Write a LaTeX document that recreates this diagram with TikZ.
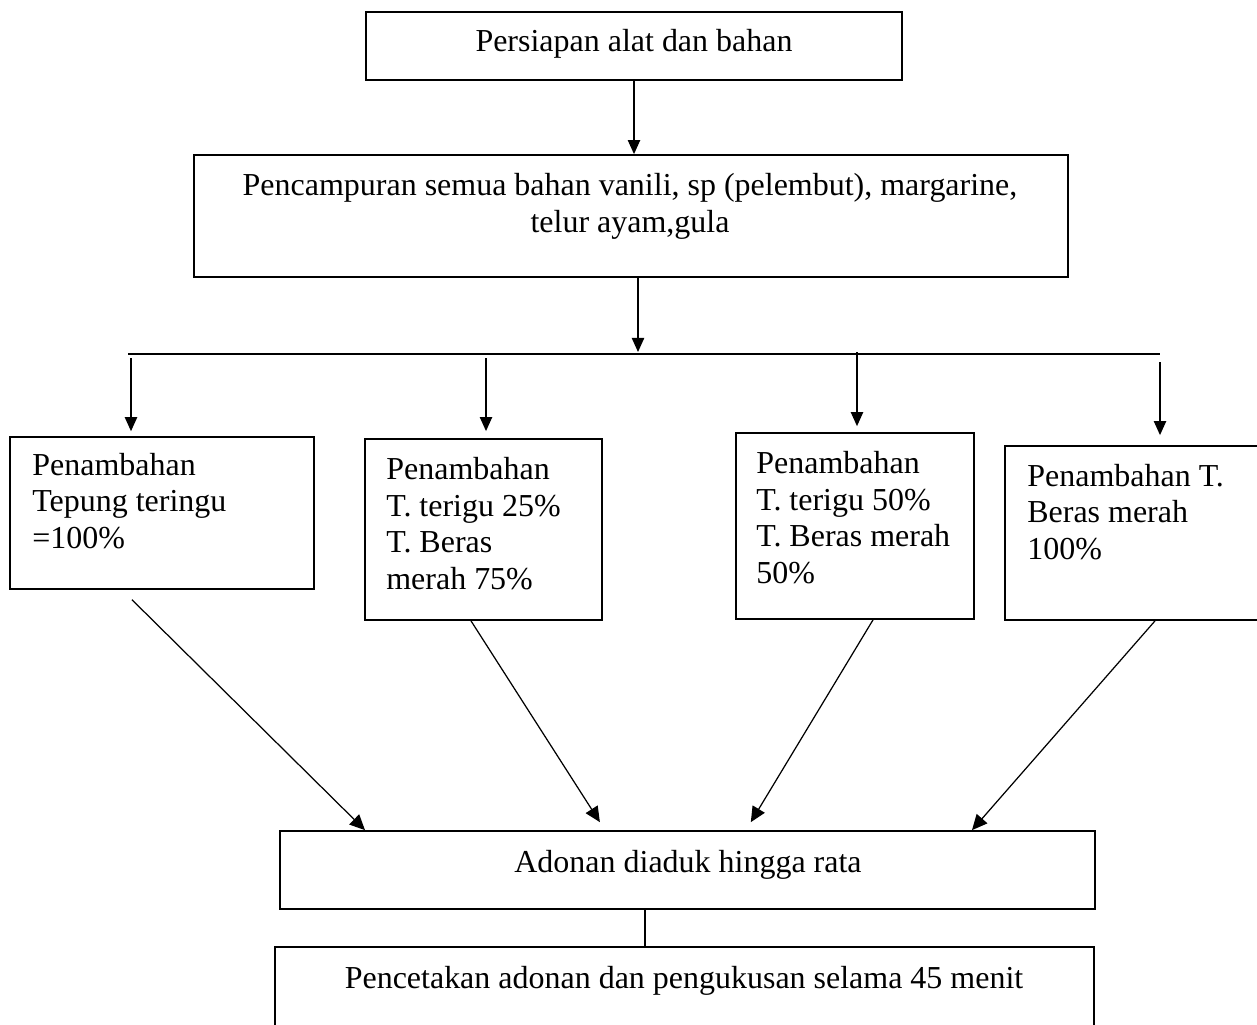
\documentclass[tikz,border=0pt]{standalone}
\usepackage{fontspec}
\setmainfont{Liberation Serif}
\usetikzlibrary{arrows.meta,fit}
\tikzset{
    box/.style={draw, line width=1pt, inner sep=0pt},
    txt/.style={inner sep=0pt, anchor=base west, align=left, font=\fontsize{18.2pt}{20.7pt}\selectfont},
    arr/.style={-{Triangle[length=8pt,width=7pt]}, line width=0.8pt},
    diag/.style={-{Triangle[length=8.7pt,width=8pt]}, line width=0.7pt},
}
\begin{document}
\begin{tikzpicture}[x=0.02cm, y=-0.02cm]
        \useasboundingbox (0,0) rectangle (1257,1024);
        \node[box, fit={(366,12) (902,80)}] (prep) {};
        \node[box, fit={(194,155) (1068,277)}] (mix) {};
        \node[box, fit={(10,437) (314,589)}] (b1) {};
        \node[box, fit={(365,439) (602,620)}] (b2) {};
        \node[box, fit={(736,433) (974,619)}] (b3) {};
        \node[box, fit={(1005,446) (1262,620)}] (b4) {};
        \node[box, fit={(280,831) (1095,909)}] (ado) {};
        \node[box, fit={(275,947) (1094,1040)}] (cetak) {};
        \node[txt, anchor=base] (tprep) at (634,52) {Persiapan alat dan bahan};
        \node[txt, anchor=base, align=center] (tmix) at (630,232) {Pencampuran semua bahan vanili, sp (pelembut), margarine,\\telur ayam,gula};
        \node[txt] (t1) at (32,548) {Penambahan\\Tepung teringu\\=100\%};
        \node[txt] (t2) at (386,589) {Penambahan\\T. terigu 25\%\\T. Beras\\merah 75\%};
        \node[txt] (t3) at (756,583) {Penambahan\\T. terigu 50\%\\T. Beras merah\\50\%};
        \node[txt] (t4) at (1027,559) {Penambahan T.\\Beras merah\\100\%};
        \node[txt, anchor=base] (tado) at (688,872) {Adonan diaduk hingga rata};
        \node[txt, anchor=base] (tcetak) at (684,988) {Pencetakan adonan dan pengukusan selama 45 menit};
        \coordinate (busL) at (128,354);
        \coordinate (busR) at (1160,354);
        \coordinate (busIn) at (638,352);
        \coordinate (d1) at (131,358);
        \coordinate (d2) at (486,358);
        \coordinate (d3) at (857,352);
        \coordinate (d4) at (1160,362);
        \draw[arr] (prep.south) -- (prep.south |- mix.north);
        \draw[arr] (638,0 |- mix.south) -- (busIn);
        \draw[line width=1.1pt] (busL) -- (busR);
        \draw[arr, shorten >=2.8pt] (d1) -- (d1 |- b1.north);
        \draw[arr, shorten >=4pt] (d2) -- (d2 |- b2.north);
        \draw[arr, shorten >=3.4pt] (d3) -- (d3 |- b3.north);
        \draw[arr, shorten >=5.7pt] (d4) -- (d4 |- b4.north);
        \draw[diag, shorten <=7.9pt] (122,0 |- b1.south) -- (365,0 |- ado.north);
        \draw[diag, shorten >=5.4pt] (471,0 |- b2.south) -- (605,0 |- ado.north);
        \draw[diag, shorten >=5.3pt] (873,0 |- b3.south) -- (746,0 |- ado.north);
        \draw[diag] (1155,0 |- b4.south) -- (972,0 |- ado.north);
        \draw[line width=0.8pt] (645,0 |- ado.south) -- (645,0 |- cetak.north);
\end{tikzpicture}
\end{document}
